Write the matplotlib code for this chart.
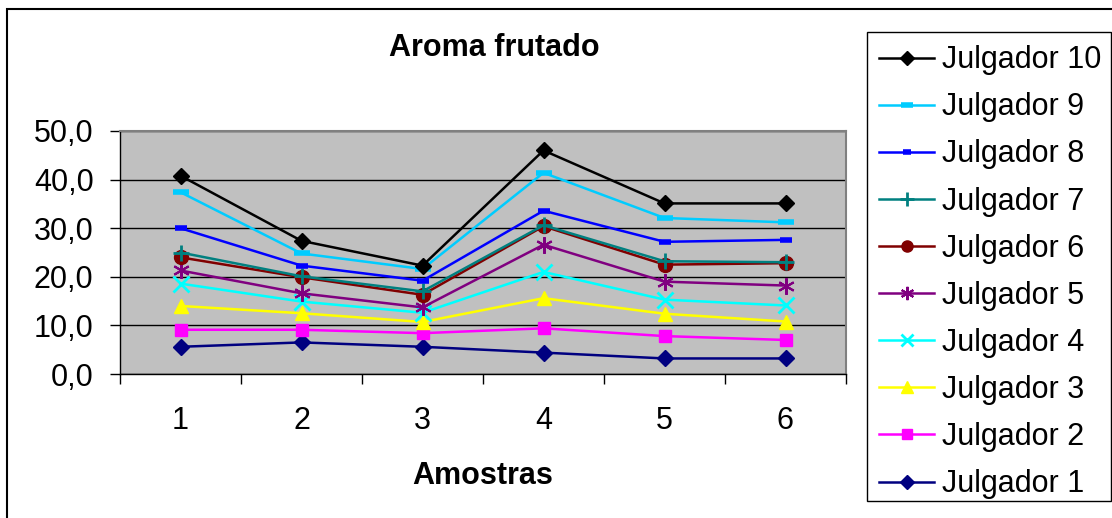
import numpy as np
import matplotlib.pyplot as plt
from matplotlib.patches import Rectangle

plt.rcParams['font.family'] = ['Liberation Sans', 'DejaVu Sans']

amostras = [1, 2, 3, 4, 5, 6]
julgadores = ['Julgador 1', 'Julgador 2', 'Julgador 3', 'Julgador 4', 'Julgador 5',
              'Julgador 6', 'Julgador 7', 'Julgador 8', 'Julgador 9', 'Julgador 10']

j1 = [5.6, 6.5, 5.6, 4.4, 3.2, 3.2]
j2 = [9.1, 9.1, 8.4, 9.4, 7.8, 7.0]
j3 = [14.0, 12.5, 10.7, 15.6, 12.4, 10.8]
j4 = [18.6, 14.9, 12.6, 21.0, 15.3, 14.1]
j5 = [21.3, 16.6, 13.7, 26.6, 19.0, 18.2]
j6 = [24.0, 19.9, 16.3, 30.4, 22.5, 22.8]
j7 = [25.0, 20.1, 17.0, 30.6, 23.2, 23.0]
j8 = [30.0, 22.3, 19.2, 33.6, 27.2, 27.6]
j9 = [37.4, 24.8, 21.6, 41.4, 32.1, 31.2]
j10 = [40.8, 27.4, 22.3, 46.0, 35.1, 35.1]
series = [j1, j2, j3, j4, j5, j6, j7, j8, j9, j10]

y_ticks = [0, 10, 20, 30, 40, 50]

# estilo tipo Excel
colors = ['#000080', '#FF00FF', '#FFFF00', '#00FFFF', '#800080',
          '#800000', '#008080', '#0000FF', '#00CCFF', '#000000']
markers = ['D', 's', '^', 'x', (6, 2, 0), 'o', '+', '_', '_', 'D']
msizes = [8.5, 9, 10, 11, 12, 10, 12, 8, 11, 8.5]
mews = [1, 1, 1, 2, 1.5, 1, 2, 4, 4, 1]

fig = plt.figure(figsize=(11.12, 5.18), dpi=100)
ax = fig.add_axes([120 / 1112, 1 - 374 / 518, 726 / 1112, 243 / 518])
ax.set_facecolor('#C0C0C0')

for s, name, c, m, ms, mew in zip(series, julgadores, colors, markers, msizes, mews):
    ax.plot(amostras, s, color=c, linewidth=1.8, marker=m, markersize=ms,
            markeredgewidth=mew, markeredgecolor=c, markerfacecolor=c, label=name,
            clip_on=False)

ax.set_xlim(0.5, 6.5)
ax.set_ylim(0, 50)
ax.set_yticks(y_ticks)
ax.set_yticklabels([f'{v:.1f}'.replace('.', ',') for v in y_ticks])
ax.yaxis.grid(True, color='black', linewidth=1)
ax.set_axisbelow(True)

ax.set_xticks(amostras)
ax.set_xticks(np.arange(0.5, 7, 1), minor=True)
ax.tick_params(axis='x', which='major', length=0, pad=23, labelsize=22)
ax.tick_params(axis='x', which='minor', length=7, width=1, color='black')
ax.tick_params(axis='y', length=7, width=1, pad=12, labelsize=22)

for side in ['top', 'right']:
    ax.spines[side].set_color('#808080')
    ax.spines[side].set_linewidth(1.5)
for side in ['left', 'bottom']:
    ax.spines[side].set_color('black')
    ax.spines[side].set_linewidth(1)

ax.set_xlabel('Amostras', fontsize=22, fontweight='bold', labelpad=18)
fig.text(494 / 1112, 1 - 48 / 518, 'Aroma frutado', ha='center', va='center',
         fontsize=22, fontweight='bold')

handles, labels = ax.get_legend_handles_labels()
leg = fig.legend(handles[::-1], labels[::-1], loc='upper left',
                 bbox_to_anchor=(867 / 1112, 1 - 33 / 518, 244 / 1112, 0),
                 mode='expand', fontsize=22, frameon=False,
                 handlelength=1.8, handletextpad=0.25, labelspacing=0.56,
                 borderpad=0.4, borderaxespad=0, markerscale=0.8)

# caixa da legenda
fig.patches.append(Rectangle((867 / 1112, 1 - 501 / 518), 244 / 1112, 469 / 518,
                             transform=fig.transFigure, fill=False,
                             edgecolor='black', linewidth=1))

# borda externa da área do gráfico
fig.patches.append(Rectangle((7 / 1112, -0.1), 1.1, 1.1 - 9 / 518, transform=fig.transFigure,
                             fill=False, edgecolor='black', linewidth=1.5))

fig.savefig('out.png', dpi=100)
